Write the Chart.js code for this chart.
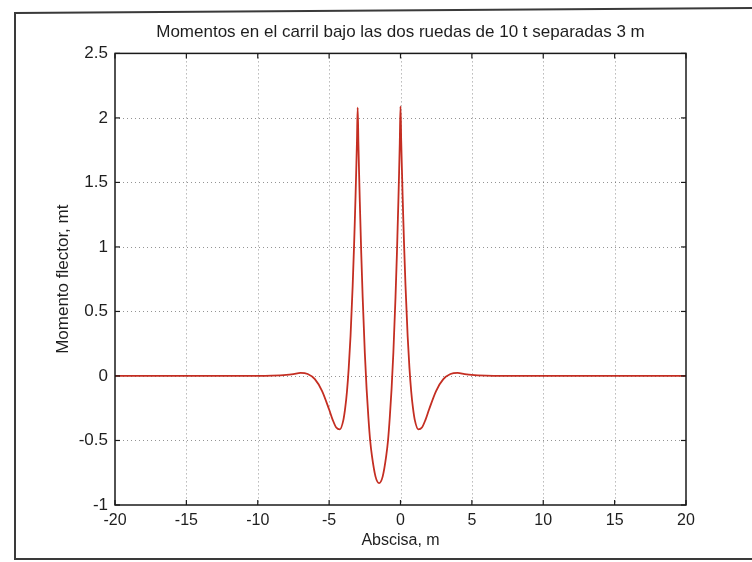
<!DOCTYPE html>
<html>
<head>
<meta charset="utf-8">
<script src="https://cdn.jsdelivr.net/npm/chart.js@4.4.1/dist/chart.umd.min.js"></script>
<style>
  html, body { margin: 0; padding: 0; background: #ffffff; }
  #wrap { width: 752px; height: 562px; }
</style>
</head>
<body>
<div id="wrap"><canvas id="c" width="752" height="562"></canvas></div>
<script>
// ---- data ----
const titleText = "Momentos en el carril bajo las dos ruedas de 10 t separadas 3 m";
const xAxisTitle = "Abscisa, m";
const yAxisTitle = "Momento flector, mt";

const xTicks = [-20, -15, -10, -5, 0, 5, 10, 15, 20];
const yTicks = [-1, -0.5, 0, 0.5, 1, 1.5, 2, 2.5];

const abscisa = [
  -20, -10, -9, -8, -7.5, -7, -6.5, -6, -5.5, -5,
  -4.75, -4.5, -4.25, -4, -3.875, -3.75, -3.625, -3.5, -3.35, -3.25,
  -3.2, -3.15, -3.1, -3.05, -3, -2.95, -2.9, -2.85, -2.8, -2.75,
  -2.65, -2.5, -2.375, -2.25, -2.125, -2, -1.75, -1.5, -1.25, -1,
  -0.875, -0.75, -0.625, -0.5, -0.35, -0.25, -0.2, -0.15, -0.1, -0.05,
  0, 0.05, 0.1, 0.15, 0.2, 0.25, 0.35, 0.5, 0.625, 0.75,
  0.875, 1, 1.25, 1.5, 1.75, 2, 2.5, 3, 3.5, 4,
  4.5, 5, 6, 7, 20
];
const momento = [
  0, 0, 0.002, 0.008, 0.015, 0.024, 0.015, -0.025, -0.115, -0.26,
  -0.34, -0.40, -0.414, -0.34, -0.25, -0.12, 0.065, 0.31, 0.70, 1.02,
  1.20, 1.39, 1.60, 1.82, 2.08, 1.81, 1.57, 1.35, 1.15, 0.95,
  0.61, 0.18, -0.10, -0.32, -0.50, -0.62, -0.78, -0.83, -0.78, -0.62,
  -0.50, -0.32, -0.10, 0.18, 0.61, 0.95, 1.15, 1.35, 1.57, 1.81,
  2.09, 1.82, 1.60, 1.39, 1.20, 1.02, 0.70, 0.31, 0.065, -0.12,
  -0.25, -0.34, -0.414, -0.40, -0.34, -0.26, -0.115, -0.025, 0.015, 0.024,
  0.015, 0.008, 0.002, 0, 0
];

// ---- chart ----
const FONT = "'Liberation Sans', Arial, Helvetica, sans-serif";
const TXT = "#1e1e1e";

const points = abscisa.map((x, i) => ({ x: x, y: momento[i] }));

const matlabFrame = {
  id: 'matlabFrame',
  beforeDraw(chart) {
    const ctx = chart.ctx;
    ctx.save();
    ctx.fillStyle = '#ffffff';
    ctx.fillRect(0, 0, chart.width, chart.height);
    // scanned page frame
    ctx.strokeStyle = '#3a3a3a';
    ctx.lineWidth = 2;
    ctx.beginPath();
    ctx.moveTo(760, 8);
    ctx.lineTo(15, 13);
    ctx.lineTo(15, 559);
    ctx.lineTo(760, 559);
    ctx.stroke();
    ctx.restore();
  },
  beforeDatasetsDraw(chart) {
    const ctx = chart.ctx;
    const a = chart.chartArea;
    const xs = chart.scales.x, ys = chart.scales.y;
    ctx.save();
    ctx.strokeStyle = 'rgba(60,60,60,0.55)';
    ctx.lineWidth = 1;
    ctx.setLineDash([1, 3]);
    xTicks.forEach(v => {
      const px = Math.round(xs.getPixelForValue(v)) + 0.5;
      if (v === xTicks[0] || v === xTicks[xTicks.length - 1]) return;
      ctx.beginPath(); ctx.moveTo(px, a.top); ctx.lineTo(px, a.bottom); ctx.stroke();
    });
    yTicks.forEach(v => {
      const py = Math.round(ys.getPixelForValue(v)) + 0.5;
      if (v === yTicks[0] || v === yTicks[yTicks.length - 1]) return;
      ctx.beginPath(); ctx.moveTo(a.left, py); ctx.lineTo(a.right, py); ctx.stroke();
    });
    ctx.restore();
  },
  afterDatasetsDraw(chart) {
    const ctx = chart.ctx;
    const a = chart.chartArea;
    const xs = chart.scales.x, ys = chart.scales.y;
    const tl = 5;
    ctx.save();
    ctx.strokeStyle = '#1a1a1a';
    ctx.lineWidth = 1.5;
    ctx.setLineDash([]);
    ctx.strokeRect(a.left, a.top, a.right - a.left, a.bottom - a.top);
    ctx.lineWidth = 1.2;
    xTicks.forEach(v => {
      const px = xs.getPixelForValue(v);
      ctx.beginPath(); ctx.moveTo(px, a.bottom); ctx.lineTo(px, a.bottom - tl); ctx.stroke();
      ctx.beginPath(); ctx.moveTo(px, a.top); ctx.lineTo(px, a.top + tl); ctx.stroke();
    });
    yTicks.forEach(v => {
      const py = ys.getPixelForValue(v);
      ctx.beginPath(); ctx.moveTo(a.left, py); ctx.lineTo(a.left + tl, py); ctx.stroke();
      ctx.beginPath(); ctx.moveTo(a.right, py); ctx.lineTo(a.right - tl, py); ctx.stroke();
    });
    ctx.restore();
  }
};

new Chart(document.getElementById('c'), {
  type: 'line',
  data: {
    datasets: [{
      data: points,
      borderColor: '#c42e22',
      borderWidth: 1.8,
      pointRadius: 0,
      fill: false,
      cubicInterpolationMode: 'monotone'
    }]
  },
  options: {
    responsive: false,
    animation: false,
    devicePixelRatio: 1,
    layout: { padding: { left: 0, right: 66, top: 0, bottom: 0 } },
    plugins: {
      legend: { display: false },
      tooltip: { enabled: false },
      title: {
        display: true,
        fullSize: false,
        text: titleText,
        color: TXT,
        font: { family: FONT, size: 17, weight: 'normal' },
        padding: { top: 22, bottom: 11 }
      }
    },
    scales: {
      x: {
        type: 'linear',
        min: -20, max: 20,
        afterFit(scale) { scale.height = 57; },
        afterBuildTicks(scale) { scale.ticks = xTicks.map(v => ({ value: v })); },
        grid: { display: false, drawTicks: false },
        border: { display: false },
        ticks: {
          color: TXT, padding: 6,
          font: { family: FONT, size: 16 },
          maxRotation: 0, autoSkip: false,
          callback: v => String(v)
        },
        title: {
          display: true, text: xAxisTitle, color: TXT,
          font: { family: FONT, size: 16 },
          padding: { top: 0, bottom: 12 }
        }
      },
      y: {
        type: 'linear',
        min: -1, max: 2.5,
        afterFit(scale) { scale.width = 115; },
        afterBuildTicks(scale) { scale.ticks = yTicks.map(v => ({ value: v })); },
        grid: { display: false, drawTicks: false },
        border: { display: false },
        ticks: {
          color: TXT, padding: 7,
          font: { family: FONT, size: 17 },
          autoSkip: false,
          callback: v => String(v)
        },
        title: {
          display: true, text: yAxisTitle, color: TXT,
          font: { family: FONT, size: 17 },
          padding: { top: 53, bottom: 0 }
        }
      }
    }
  },
  plugins: [matlabFrame]
});
</script>
</body>
</html>
